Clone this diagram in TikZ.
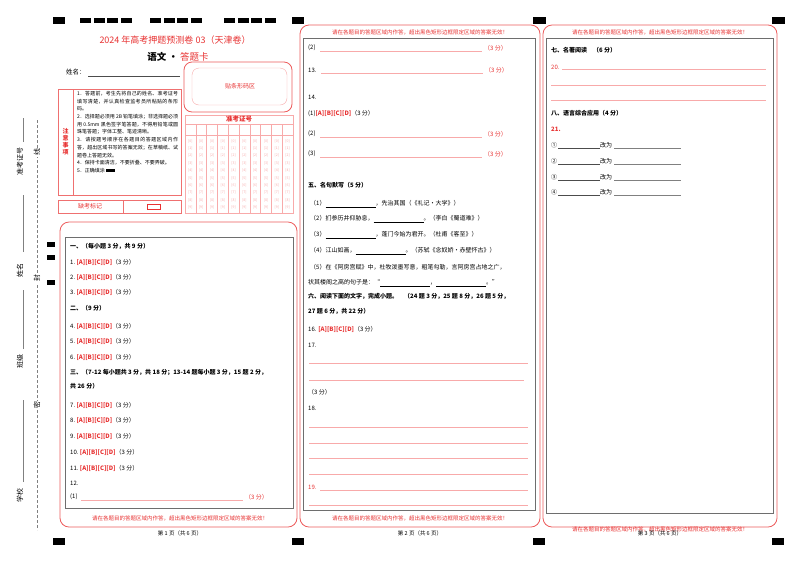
\documentclass[tikz,border=0pt]{standalone}
\usepackage{fontspec}
\setmainfont{Noto Sans CJK SC}
\XeTeXlinebreaklocale "zh"
\XeTeXlinebreakskip=0pt plus 1pt
\definecolor{rd}{RGB}{232,50,50}
\definecolor{pk}{RGB}{248,170,170}
\definecolor{gy}{RGB}{110,110,110}
\tikzset{
 t/.style={anchor=west,inner sep=0pt,font=\fontsize{6}{7}\selectfont},
 tr/.style={t,text=rd},
 tc/.style={inner sep=0pt,font=\fontsize{5.5}{6}\selectfont},
 blk/.style={fill=black},
 outer/.style={draw=rd!80,line width=0.8pt,rounded corners=9pt},
 inner/.style={draw=gy,line width=0.8pt},
 ul/.style={draw=pk,line width=0.8pt},
 bl/.style={draw=black!70,line width=0.5pt},
 grid/.style={draw=pk,line width=0.5pt},
 vlab/.style={rotate=90,font=\fontsize{7}{8}\selectfont,anchor=west,inner sep=0pt}
}
\newcommand{\abcd}{{\color{rd}\bfseries [A][B][C][D]}}
\begin{document}
\begin{tikzpicture}[x=1pt,y=-1pt]
\useasboundingbox[fill=white] (0,0) rectangle (800,566);
% black marks top
\fill[blk] (53,17) rectangle (65,24);
\foreach \g in {80,150,224}{\foreach \k in {0,1,2,3}{\fill[blk] (\g+\k*13.5,18) rectangle (\g+\k*13.5+11,23);}}
\fill[blk] (292,17) rectangle (304,24);
\fill[blk] (533,17) rectangle (546,24);
\fill[blk] (772,17) rectangle (785,24);
% bottom marks
\foreach \x in {53,292,533,772}{\fill[blk] (\x,538) rectangle (\x+12,545);}
% left margin
\fill[blk] (47,242) rectangle (55,247);
\fill[blk] (47,255) rectangle (55,260);
\fill[blk] (47,280) rectangle (55,285);
\draw[densely dashed,gray] (37,120) -- (37,530);
\foreach \n/\y/\s in {lx/152/线,lf/278/封,lm/405/密}{\node[fill=white,inner sep=1pt,rotate=90,font=\fontsize{7}{8}\selectfont] (\n) at (37,\y) {\s};}
\node[vlab] (zk) at (20,176) {准考证号};
\draw[gray] (23,142) -- (23,118);
\node[vlab] (xm) at (20,278) {姓名};
\draw[gray] (23,252) -- (23,195);
\node[vlab] (bj) at (20,369) {班级};
\draw[gray] (23,349) -- (23,290);
\node[vlab] (xx) at (20,503) {学校};
\draw[gray] (23,482) -- (23,400);
% ---------- column 1 header
\node[text=rd,font=\fontsize{9}{10}\selectfont] (title) at (175,40) {2024 年高考押题预测卷 03（天津卷）};
\node[font=\fontsize{9.5}{10}\selectfont\bfseries] (sub) at (178,57) {语文 · {\color{rd}\mdseries 答题卡}};
\node[t,font=\fontsize{6.5}{7}\selectfont] (nm) at (66,72) {姓名：};
\draw[bl] (88,76) -- (180,76);
\draw[outer,rounded corners=8pt] (184,62) rectangle (292,112);
\draw[draw=pk,rounded corners=7pt] (192,68) rectangle (287,105);
\node[text=rd,font=\fontsize{6}{7}\selectfont] (tm) at (240,86) {贴条形码区};
% notice box
\draw[draw=rd!70] (58,89) rectangle (181,195);
\draw[draw=rd!70] (73,89) -- (73,195);
\node[text=rd,font=\fontsize{6}{7}\selectfont\bfseries,align=center,text width=7pt] (zy) at (65.5,142) {注\\意\\事\\项};
\node[anchor=north west,inner sep=0pt,text width=101pt,align=justify,font=\fontsize{5}{7.7}\selectfont] (ins) at (77,91) {1．答题前，考生先将自己的姓名、准考证号填写清楚，并认真检查监考员所粘贴的条形码。\\2．选择题必须用 2B 铅笔填涂；非选择题必须用 0.5mm 黑色签字笔答题，不得用铅笔或圆珠笔答题；字体工整、笔迹清晰。\\3．请按题号顺序在各题目的答题区域内作答，超出区域书写的答案无效；在草稿纸、试题卷上答题无效。\\4．保持卡面清洁，不要折叠、不要弄破。\\5．正确填涂 \rule{9pt}{3.5pt}};
\draw[draw=rd!70] (58,200) rectangle (181,213);
\draw[draw=rd!70] (123,200) -- (123,213);
\node[text=rd,font=\fontsize{6}{7}\selectfont] (qk) at (90,206.5) {缺考标记};
\draw[draw=rd] (147,204) rectangle (160,209);
% ticket grid
\draw[grid] (185,115) rectangle (293,213);
\draw[grid] (185,124) -- (293,124);
\draw[grid] (185,135) -- (293,135);
\foreach \i in {1,...,9}{\draw[grid] (185+\i*10.8,124) -- (185+\i*10.8,213);}
\node[text=rd,font=\fontsize{6.5}{7}\selectfont\bfseries] (zkz) at (239,119.5) {准考证号};
\foreach \i in {0,...,9}{\foreach \j in {0,...,9}{\node[text=pk,inner sep=0pt,font=\fontsize{3.5}{4}\selectfont] (d\i\j) at (190.4+\i*10.8,141+\j*7.4) {[\j]};}}
% ---------- column 1 main
\draw[outer] (60,222) rectangle (297,527);
\draw[inner] (65,237) rectangle (293,508);
\node[t,font=\fontsize{6}{7}\selectfont\bfseries] (s1) at (70,246) {一、（每小题 3 分，共 9 分）};
\foreach \n/\y in {1/262,2/277,3/292,4/326,5/341,6/357,7/405,8/420,9/436,10/452,11/468}{\node[t] (q\n) at (70,\y) {\n.\ \abcd（3 分）};}
\node[t,font=\fontsize{6}{7}\selectfont\bfseries] (s2) at (70,308) {二、（9 分）};
\node[t,font=\fontsize{6}{7}\selectfont\bfseries] (s3) at (70,372) {三、（7-12 每小题共 3 分，共 18 分；13-14 题每小题 3 分，15 题 2 分，};
\node[t,font=\fontsize{6}{7}\selectfont\bfseries] (s3b) at (70,386) {共 26 分）};
\node[t] (q12) at (70,483) {12.};
\node[t] (q12a) at (70,497) {(1)};
\draw[ul] (81,500) -- (243,500);
\node[tr] (p12) at (245,497) {（3 分）};
\node[tc,text=rd] (f1) at (180,518) {请在各题目的答题区域内作答，超出黑色矩形边框限定区域的答案无效！};
\node[tc] (pg1) at (180,533) {第 1 页（共 6 页）};
% ---------- column 2
\draw[outer] (300,25) rectangle (540,527);
\draw[inner] (303,38) rectangle (535,510);
\node[tc,text=rd] (h2) at (420,32) {请在各题目的答题区域内作答，超出黑色矩形边框限定区域的答案无效！};
\node[t] (c2a) at (308,48) {(2)};
\draw[ul] (320,51) -- (482,51);
\node[tr] (c2ap) at (484,48) {（3 分）};
\node[t] (c13) at (308,70) {13.};
\draw[ul] (321,73) -- (483,73);
\node[tr] (c13p) at (485,70) {（3 分）};
\node[t] (c14) at (308,97) {14.};
\node[t] (c14a) at (308,114) {(1)\abcd（3 分）};
\node[t] (c14b) at (308,134) {(2)};
\draw[ul] (320,137) -- (482,137);
\node[tr] (c14bp) at (484,134) {（3 分）};
\node[t] (c14c) at (308,154) {(3)};
\draw[ul] (320,157) -- (482,157);
\node[tr] (c14cp) at (484,154) {（3 分）};
\node[t,font=\fontsize{6}{7}\selectfont\bfseries] (s5) at (308,185) {五、名句默写（5 分）};
\node[t] (m1) at (310,204) {（1）\underline{\hspace{50pt}}，先治其国（《礼记•大学》）};
\node[t] (m2) at (310,219) {（2）扪参历井仰胁息，\underline{\hspace{50pt}}。（李白《蜀道难》）};
\node[t] (m3) at (310,235) {（3）\underline{\hspace{50pt}}，蓬门今始为君开。（杜甫《客至》）};
\node[t] (m4) at (310,251) {（4）江山如画，\underline{\hspace{50pt}}。（苏轼《念奴娇•赤壁怀古》）};
\node[t] (m5) at (310,267) {（5）在《阿房宫赋》中，杜牧泼墨写意，粗笔勾勒，言阿房宫占地之广，};
\node[t] (m5b) at (308,283) {状其楼阁之高的句子是：“\underline{\hspace{50pt}}，\underline{\hspace{50pt}}。”};
\node[t,font=\fontsize{6}{7}\selectfont\bfseries] (s6) at (308,296) {六、阅读下面的文字，完成小题。\quad（24 题 3 分，25 题 8 分，26 题 5 分，};
\node[t,font=\fontsize{6}{7}\selectfont\bfseries] (s6b) at (308,311) {27 题 6 分，共 22 分）};
\node[t] (c16) at (308,329) {16. \abcd（3 分）};
\node[t] (c17) at (308,345) {17.};
\draw[ul] (309,363) -- (528,363);
\draw[ul] (309,380) -- (524,380);
\node[t] (c17p) at (308,392) {（3 分）};
\node[t] (c18) at (308,408) {18.};
\foreach \y in {427,443,458,474,505}{\draw[ul] (309,\y) -- (528,\y);}
\node[tr] (c19) at (308,487) {19.};
\draw[ul] (320,490) -- (528,490);
\node[tc,text=rd] (f2) at (420,518) {请在各题目的答题区域内作答，超出黑色矩形边框限定区域的答案无效！};
\node[tc] (pg2) at (420,533) {第 2 页（共 6 页）};
% ---------- column 3
\draw[outer] (543,25) rectangle (777,527);
\draw[inner] (546,38) rectangle (773,513);
\node[tc,text=rd] (h3) at (660,32) {请在各题目的答题区域内作答，超出黑色矩形边框限定区域的答案无效！};
\node[t,font=\fontsize{6}{7}\selectfont\bfseries] (s7) at (551,50) {七、名著阅读\quad （6 分）};
\node[tr] (c20) at (551,67) {20.};
\draw[ul] (562,69) -- (766,69);
\draw[ul] (551,85) -- (766,85);
\draw[ul] (551,100) -- (766,100);
\node[t,font=\fontsize{6}{7}\selectfont\bfseries] (s8) at (551,113) {八、语言综合应用（4 分）};
\node[tr,font=\fontsize{6}{7}\selectfont\bfseries] (c21) at (551,129) {21.};
\foreach \n/\c/\y in {1/①/145,2/②/161,3/③/177,4/④/192}{
 \node[t] (r\n) at (551,\y) {\c};
 \draw[bl] (558,\y+3) -- (600,\y+3);
 \node[t] (g\n) at (600,\y) {改为};
 \draw[gray] (614,\y+3) -- (681,\y+3);
}
\node[tc,text=rd] (f3) at (660,529) {请在各题目的答题区域内作答，超出黑色矩形边框限定区域的答案无效！};
\node[tc] (pg3) at (660,533) {第 3 页（共 6 页）};
\end{tikzpicture}
\end{document}
